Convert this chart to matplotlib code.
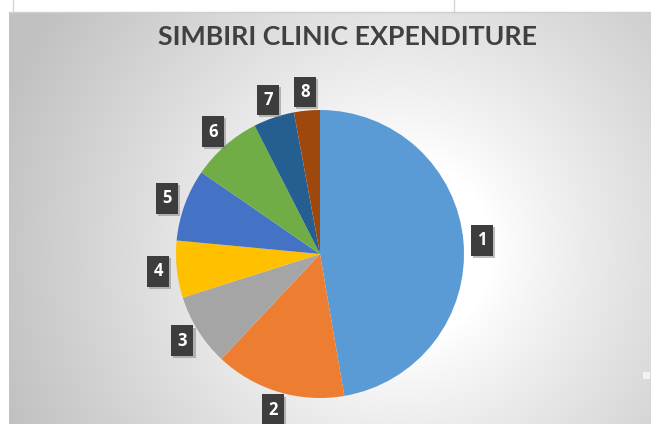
import matplotlib
matplotlib.use("Agg")
import matplotlib.pyplot as plt
import matplotlib.patheffects as pe
import numpy as np

W, H = 651, 424

TITLE  = "SIMBIRI CLINIC EXPENDITURE"
LABELS = ["1", "2", "3", "4", "5", "6", "7", "8"]
SHARES = [47.3, 14.7, 8.1, 6.4, 8.1, 7.9, 4.6, 2.9]
COLORS = ["#5B9BD5", "#ED7D31", "#A5A5A5", "#FFC000",
          "#4472C4", "#70AD47", "#255E91", "#9E480E"]


def px(x, y):
    # pixel coords (top-left origin) -> figure fraction
    return x / W, 1 - y / H


def main():
    fig = plt.figure(figsize=(W / 100, H / 100), dpi=100)
    fig.patch.set_facecolor("white")

    # chart area with radial grey gradient
    left, top = 9, 12
    bg = fig.add_axes([left / W, 0, 1 - left / W, (H - top) / H])
    yy, xx = np.mgrid[top:H, left:W]
    cx, cy, rad = 400, 250, 420
    d = np.hypot(xx - cx, yy - cy) / rad
    t = np.clip((d - 0.22) / 0.78, 0, 1) ** 0.9
    shade = 1.0 - t * (1.0 - 0.76)
    bg.imshow(np.dstack([shade] * 3), aspect="auto", interpolation="bilinear")
    bg.set_axis_off()

    # spreadsheet grid bits in the white strip
    fig.add_artist(plt.Line2D([left / W, 1], [1 - 11.5 / H] * 2, color="#cfcfcf", lw=1))
    for gx in (12.5, 453.5):
        fig.add_artist(plt.Line2D([gx / W] * 2, [1, 1 - 11 / H], color="#d6d6d6", lw=1))
    fig.add_artist(plt.Rectangle(px(643, 379), 7 / W, 7 / H, color="#f2f2f2", lw=0))

    fig.text(*px(348, 37), TITLE, ha="center", va="center",
             fontsize=19.3, fontweight="bold", color="#404040", family="Lato")

    cx_p, cy_p, r_p = 320, 254, 144
    ax = fig.add_axes([(cx_p - r_p) / W, (H - cy_p - r_p) / H, 2 * r_p / W, 2 * r_p / H])
    wedges, texts = ax.pie(SHARES, labels=LABELS, colors=COLORS, startangle=90,
                           counterclock=False, labeldistance=1.13,
                           wedgeprops=dict(linewidth=0))
    ax.set_xlim(-1, 1)
    ax.set_ylim(-1, 1)
    ax.set_aspect("equal")
    ax.set_axis_off()

    for txt in texts:
        txt.set_ha("center")
        txt.set_va("center")
        txt.set_color("white")
        txt.set_fontsize(12)
        txt.set_fontweight("bold")
        txt.set_family("Open Sans")
        txt.set_bbox(dict(boxstyle="square,pad=0.38", facecolor="#3d3d3d",
                          edgecolor="none"))
        txt.get_bbox_patch().set_path_effects(
            [pe.SimplePatchShadow(offset=(1.5, -1.5), shadow_rgbFace="#808080", alpha=0.5),
             pe.Normal()])

    fig.savefig("out.png", dpi=100)


if __name__ == "__main__":
    main()
